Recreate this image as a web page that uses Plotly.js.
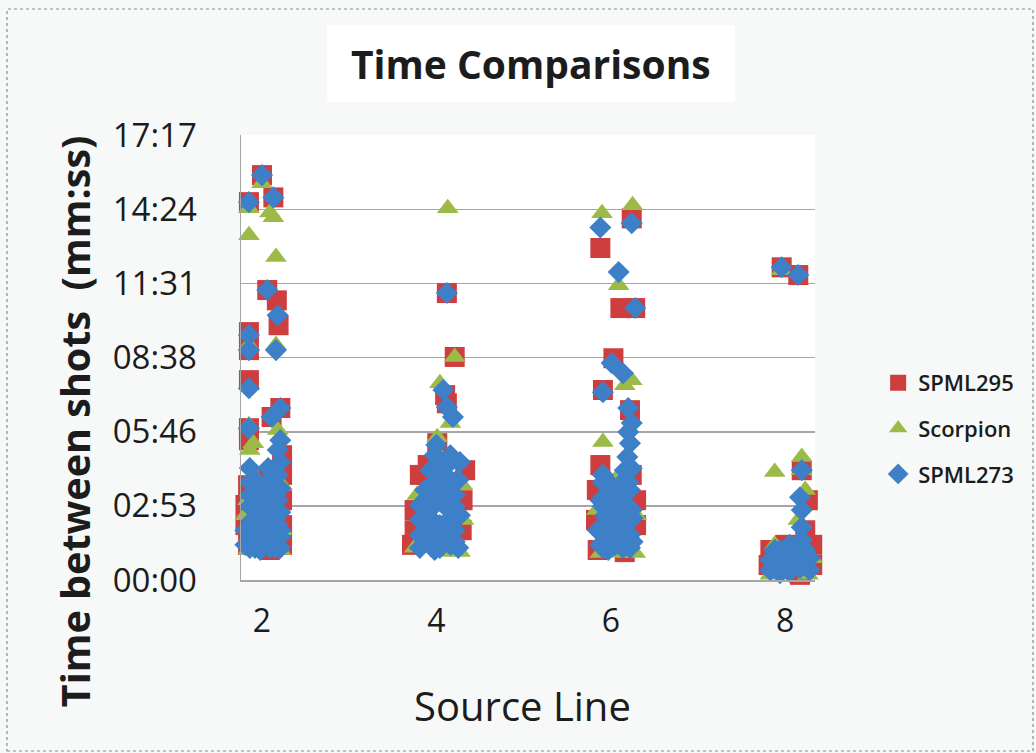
<!DOCTYPE html>
<html>
<head>
<meta charset="utf-8">
<script src="https://cdn.plot.ly/plotly-3.0.1.min.js"></script>
<style>html,body{margin:0;padding:0;background:#f7f8f8;}#chart{width:1036px;height:753px;}</style>
</head>
<body>
<div id="chart"></div>
<script>
// Source line categories (x) and time between shots in seconds (y)
const sourceLines = [2, 4, 6, 8];
const sourceLineLabels = ['2', '4', '6', '8'];
const yTickVals = [0, 172.8, 345.6, 518.4, 691.2, 864, 1036.8];
const yTickText = ['00:00', '02:53', '05:46', '08:38', '11:31', '14:24', '17:17'];

const seriesNames = ['SPML295', 'Scorpion', 'SPML273'];

const spml295X = [2.00,1.85,2.13,2.06,2.17,2.19,1.85,1.85,1.85,2.21,2.11,1.85,1.85,
  2.23,2.23,2.23,2.23,2.23,1.84,1.81,1.81,1.84,2.07,2.00,1.95,2.09,2.15,2.18,
  4.12,4.21,4.12,4.01,4.10,4.33,3.81,4.30,3.75,3.75,4.29,3.72,4.10,3.90,
  6.24,5.88,6.11,6.28,6.03,5.91,6.22,5.88,6.24,5.84,6.29,5.83,6.29,5.85,6.16,6.01,
  7.96,8.15,8.19,8.23,8.31,7.83,7.81,8.31,8.17,8.00,8.26];
const spml295Y = [944,881,892,676,652,594,578,536,466,401,380,354,326,
  291,245,186,128,82,221,175,128,82,233,140,93,70,100,151,
  669,520,412,319,431,256,245,186,163,116,116,82,186,268,
  843,774,634,634,517,443,396,268,245,210,186,140,128,70,65,198,
  729,711,256,116,82,70,35,35,12,82,186];

const scorpionX = [2.00,1.85,2.09,2.13,1.85,2.16,2.16,1.85,1.85,1.90,2.18,
  1.86,2.15,1.84,1.81,2.23,1.84,2.03,2.21,2.00,2.11,1.90,2.23,
  4.13,4.21,4.04,4.16,4.01,4.01,4.30,3.78,4.31,3.75,4.04,4.27,3.87,
  5.90,6.25,6.09,6.24,5.91,6.16,6.05,5.84,6.29,5.88,6.28,6.08,5.97,
  7.96,7.88,8.19,8.19,8.15,7.88,8.31,7.83,8.26,8.23];
const scorpionY = [925,867,857,846,804,753,548,548,361,319,350,
  303,233,186,151,116,70,70,70,191,163,245,221,
  867,520,459,366,333,298,221,198,140,75,65,65,140,
  855,874,687,466,322,454,233,163,151,63,63,63,175,
  722,252,287,256,140,82,51,12,12,210];

const spml273X = [2.00,1.85,2.13,2.06,2.18,1.85,1.85,2.16,1.85,2.21,2.11,1.85,2.21,
  2.18,2.21,2.18,2.21,2.18,2.21,2.18,2.21,2.21,1.86,1.92,1.86,1.95,1.89,2.07,2.03,2.09,2.03,2.07,1.81,1.86,1.92,1.98,2.03,2.09,2.15,1.81,1.98,2.11,
  1.86,2.09,1.92,2.15,1.86,1.98,2.09,1.92,2.03,2.15,1.86,1.98,2.09,2.21,1.92,2.03,2.15,1.86,1.98,2.09,
  4.12,4.08,4.19,4.12,4.00,3.98,4.16,4.27,3.93,4.10,4.25,3.87,4.04,4.21,3.81,3.98,4.16,4.27,3.81,4.04,4.21,3.81,3.98,4.16,3.81,3.98,4.25,3.90,
  4.04,4.16,3.98,4.10,4.21,3.93,4.16,3.87,4.10,4.21,3.93,4.16,4.10,3.87,4.10,4.21,4.04,
  5.88,6.24,6.09,6.28,6.01,6.14,5.91,6.20,6.24,6.22,6.19,5.91,6.16,6.01,6.22,5.88,6.08,6.24,5.94,6.14,5.85,6.01,6.22,5.88,6.05,6.22,5.97,6.12,6.16,
  5.91,6.20,5.97,6.14,5.91,6.01,6.20,5.97,6.25,5.91,6.14,5.97,6.14,6.25,5.91,6.14,6.20,6.24,
  7.96,8.15,8.19,8.17,8.19,8.19,8.19,8.05,7.88,8.23,8.00,7.83,8.11,8.28,7.94,8.17,7.83,8.05,8.28,7.94,
  7.88,8.11,8.00,8.23,7.94];
const spml273Y = [944,881,892,676,617,571,536,536,447,401,380,354,326,
  303,275,245,214,186,158,128,100,75,261,233,198,175,140,261,221,191,163,135,116,93,75,105,82,100,75,82,70,151,
  228,228,200,200,172,172,172,144,144,144,116,116,116,116,89,89,89,75,75,75,
  669,443,380,403,315,291,291,275,256,245,233,210,210,198,175,175,163,151,140,128,116,105,93,82,75,70,75,116,
  275,275,228,228,228,200,200,172,172,172,144,144,116,89,89,89,75,
  822,832,718,634,506,482,438,401,366,319,287,245,256,221,210,186,186,163,151,140,116,116,105,82,82,75,70,151,233,
  228,228,200,200,172,172,172,144,144,116,116,89,89,89,75,75,345,260,
  729,711,256,193,163,123,93,82,70,70,58,47,47,51,35,28,23,19,23,16,
  47,70,35,51,70];

const FONT = 'Open Sans, Noto Sans, sans-serif';
const TXT = '#1c1c1c';

const traces = [
  {x: spml295X, y: spml295Y, name: seriesNames[0], legendgroup: 'a', type: 'scatter', mode: 'markers', cliponaxis: false,
   marker: {symbol: 'square', size: 20, color: '#cf3e3e', line: {width: 0}}},
  {x: scorpionX, y: scorpionY, name: seriesNames[1], legendgroup: 'b', type: 'scatter', mode: 'markers', cliponaxis: false,
   marker: {symbol: 'triangle-up', size: 19, color: '#9bbb46', line: {width: 0}}},
  {x: spml273X, y: spml273Y, name: seriesNames[2], legendgroup: 'c', type: 'scatter', mode: 'markers', cliponaxis: false,
   marker: {symbol: 'diamond', size: 17, color: '#3d80c8', line: {width: 0}}}
];

const layout = {
  width: 1036, height: 753,
  margin: {l: 241, r: 221, t: 135, b: 173, autoexpand: false},
  paper_bgcolor: '#f7f8f8',
  plot_bgcolor: '#ffffff',
  showlegend: true,
  legend: {
    x: 1.11, y: 0.49, xanchor: 'left', yanchor: 'top',
    bgcolor: 'rgba(0,0,0,0)',
    traceorder: 'grouped', tracegroupgap: 14,
    font: {family: FONT, size: 22, color: TXT, weight: 600}
  },
  xaxis: {
    range: [1.759, 8.342],
    tickmode: 'array', tickvals: sourceLines, ticktext: sourceLineLabels,
    showgrid: false, zeroline: false,
    showline: true, linecolor: '#a6a6a6', linewidth: 1.5,
    ticks: '', ticklabelstandoff: 12,
    tickfont: {family: FONT, size: 32, color: TXT}
  },
  yaxis: {
    range: [0, 1037.5],
    tickmode: 'array', tickvals: yTickVals, ticktext: yTickText,
    showgrid: true, gridcolor: '#a6a6a6', gridwidth: 1.5,
    zeroline: false,
    showline: true, linecolor: '#a6a6a6', linewidth: 1.5,
    ticks: '', ticklabelstandoff: 36,
    tickfont: {family: FONT, size: 33, color: TXT}
  },
  shapes: [
    {type: 'rect', xref: 'paper', yref: 'paper', x0: -0.4077, x1: 1.3798, y0: -0.3843, y1: 1.2831,
     line: {color: '#8a8a8a', width: 1.2, dash: 'dot'}, fillcolor: 'rgba(0,0,0,0)', layer: 'below'},
    {type: 'rect', xref: 'paper', yref: 'paper', x0: 0.1498, x1: 0.8606, y0: 1.074, y1: 1.247,
     line: {width: 0}, fillcolor: '#ffffff', layer: 'below'}
  ],
  annotations: [
    {text: '<b>Time Comparisons</b>', xref: 'paper', yref: 'paper', x: 0.505, y: 1.1596,
     xanchor: 'center', yanchor: 'middle', showarrow: false,
     font: {family: FONT, size: 39, color: TXT}},
    {text: '<b>Time between shots&nbsp;&nbsp;(mm:ss)</b>', xref: 'paper', yref: 'paper', x: -0.289, y: 0.357,
     xanchor: 'center', yanchor: 'middle', textangle: -90, showarrow: false,
     font: {family: FONT, size: 39.5, color: TXT}},
    {text: 'Source Line', xref: 'paper', yref: 'paper', x: 0.491, y: -0.281,
     xanchor: 'center', yanchor: 'middle', showarrow: false,
     font: {family: FONT, size: 40, color: TXT}}
  ]
};

Plotly.newPlot('chart', traces, layout, {displayModeBar: false, staticPlot: true});
</script>
</body>
</html>
